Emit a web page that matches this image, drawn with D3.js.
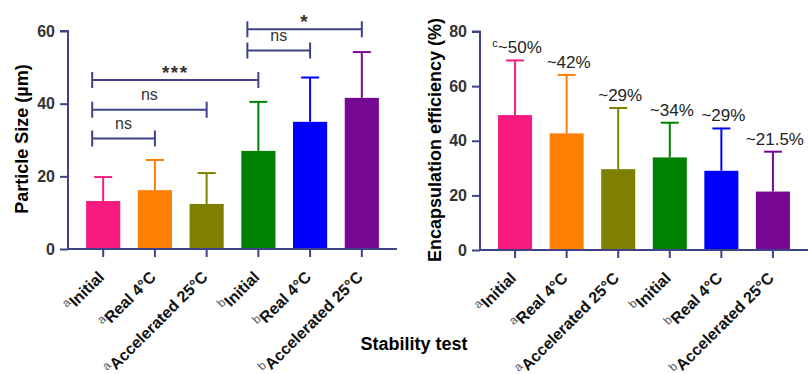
<!DOCTYPE html>
<html>
<head>
<meta charset="utf-8">
<script src="https://cdn.jsdelivr.net/npm/d3@7"></script>
<style>
  body { margin: 0; background: #fff; }
  svg text { font-family: "Liberation Sans", Arial, sans-serif; }
</style>
</head>
<body>
<div id="chart"></div>
<script>
// data
var categories = ["Initial", "Real 4°C", "Accelerated 25°C", "Initial", "Real 4°C", "Accelerated 25°C"];
var groupMarks = ["a", "a", "a", "b", "b", "b"];
var barColors = ["#f71b80", "#ff8000", "#808000", "#008000", "#0000ff", "#770894"];

var sizeMean = [13.2, 16.2, 12.4, 27.0, 35.0, 41.6];
var sizeSD = [6.6, 8.3, 8.5, 13.5, 12.2, 12.6];
var sizeTicks = [0, 20, 40, 60];

var effMean = [49.4, 42.7, 29.6, 33.9, 29.0, 21.4];
var effSD = [20.0, 21.4, 22.4, 12.7, 15.5, 14.6];
var effTicks = [0, 20, 40, 60, 80];
var effLabels = ["~50%", "~42%", "~29%", "~34%", "~29%", "~21.5%"];
var effLabelMarks = ["c", "", "", "", "", ""];

// significance brackets: from bar, to bar, height, label
var bracketFrom = [0, 0, 0, 3, 3];
var bracketTo = [1, 2, 3, 4, 5];
var bracketY = [30.4, 38.3, 46.5, 54.6, 60.5];
var bracketText = ["ns", "ns", "***", "ns", "*"];

var W = 808, H = 374;
var axisColor = "#3f4287";

var svg = d3.select("#chart").append("svg")
    .attr("width", W).attr("height", H);

function drawPanel(opt) {
    var g = svg.append("g");
    var x = d3.scaleBand()
        .domain(d3.range(categories.length))
        .range([opt.x0, opt.x1])
        .paddingInner(0.34)
        .paddingOuter(0.35);
    var y = d3.scaleLinear().domain(opt.domain).range([opt.yBottom, opt.yTop]);

    // bars
    g.selectAll("rect.bar")
        .data(opt.mean)
      .enter().append("rect")
        .attr("class", "bar")
        .attr("x", function(d, i) { return x(i); })
        .attr("width", x.bandwidth())
        .attr("y", function(d) { return y(d); })
        .attr("height", function(d) { return y(0) - y(d); })
        .attr("fill", function(d, i) { return barColors[i]; });

    // error bars (upper only)
    var err = g.selectAll("g.err")
        .data(opt.mean)
      .enter().append("g")
        .attr("class", "err")
        .attr("stroke", function(d, i) { return barColors[i]; })
        .attr("stroke-width", 2);
    err.append("line")
        .attr("x1", function(d, i) { return x(i) + x.bandwidth() / 2; })
        .attr("x2", function(d, i) { return x(i) + x.bandwidth() / 2; })
        .attr("y1", function(d) { return y(d); })
        .attr("y2", function(d, i) { return y(d + opt.sd[i]); });
    err.append("line")
        .attr("x1", function(d, i) { return x(i) + x.bandwidth() / 2 - 9; })
        .attr("x2", function(d, i) { return x(i) + x.bandwidth() / 2 + 9; })
        .attr("y1", function(d, i) { return y(d + opt.sd[i]); })
        .attr("y2", function(d, i) { return y(d + opt.sd[i]); });

    // y axis
    var yAxis = g.append("g")
        .attr("transform", "translate(" + opt.x0 + ",0)")
        .call(d3.axisLeft(y).tickValues(opt.ticks).tickSize(8).tickPadding(5));
    yAxis.select(".domain").attr("stroke", axisColor).attr("stroke-width", 2)
        .attr("d", "M0," + (opt.yBottom + 1) + "V" + opt.yTop + "H-8");
    yAxis.selectAll(".tick line").attr("stroke", axisColor).attr("stroke-width", 2);
    yAxis.selectAll(".tick text")
        .attr("font-size", 16).attr("font-weight", "bold").attr("fill", "#333");

    // x axis
    var xAxis = g.append("g")
        .attr("transform", "translate(0," + opt.yBottom + ")")
        .call(d3.axisBottom(x).tickSize(8).tickFormat(""));
    xAxis.select(".domain").attr("stroke", axisColor).attr("stroke-width", 2)
        .attr("d", "M" + (opt.x0 - 1) + ",0H" + opt.x1);
    xAxis.selectAll(".tick line").attr("stroke", axisColor).attr("stroke-width", 2);

    // rotated category labels with group letters
    var lab = g.selectAll("text.cat")
        .data(categories)
      .enter().append("text")
        .attr("class", "cat")
        .attr("text-anchor", "end")
        .attr("transform", function(d, i) {
            return "translate(" + (x(i) + x.bandwidth() / 2 + 2) + "," + (opt.yBottom + 29) + ") rotate(-45)";
        });
    lab.append("tspan")
        .attr("font-size", 12)
        .attr("fill", "#555")
        .attr("dy", -6)
        .text(function(d, i) { return groupMarks[i]; });
    lab.append("tspan")
        .attr("font-size", 16)
        .attr("font-weight", "bold")
        .attr("fill", "#111")
        .attr("dy", 6)
        .text(function(d) { return d; });

    // y title
    g.append("text")
        .attr("transform", "translate(" + opt.titleX + "," + opt.titleY + ") rotate(-90)")
        .attr("text-anchor", "middle")
        .attr("font-size", 18)
        .attr("font-weight", "bold")
        .attr("fill", "#000")
        .text(opt.title);

    return { g: g, x: x, y: y };
}

// left panel: particle size
var left = drawPanel({
    x0: 68, x1: 397, yBottom: 249, yTop: 31,
    domain: [0, 60], ticks: sizeTicks,
    mean: sizeMean, sd: sizeSD,
    title: "Particle Size (µm)", titleX: 28, titleY: 139
});

var br = left.g.selectAll("g.bracket")
    .data(bracketY)
  .enter().append("g")
    .attr("class", "bracket");
function bx(i, end) {
    var c = left.x(i) + left.x.bandwidth() / 2;
    return end ? c : c - 11;
}
br.append("path")
    .attr("fill", "none")
    .attr("stroke", axisColor)
    .attr("stroke-width", 2)
    .attr("d", function(d, i) {
        var x1 = bx(bracketFrom[i], false), x2 = bx(bracketTo[i], true), yy = left.y(d);
        return "M" + x1 + "," + (yy - 8) + "V" + (yy + 8) +
               "M" + x1 + "," + yy + "H" + x2 +
               "M" + x2 + "," + (yy - 8) + "V" + (yy + 8);
    });
br.append("text")
    .attr("text-anchor", "middle")
    .attr("x", function(d, i) { return (bx(bracketFrom[i], false) + bx(bracketTo[i], true)) / 2; })
    .attr("y", function(d, i) { return left.y(d) - (bracketText[i].indexOf("*") >= 0 ? 1 : 10); })
    .attr("font-size", function(d, i) { return bracketText[i].indexOf("*") >= 0 ? 19 : 16; })
    .attr("font-weight", function(d, i) { return bracketText[i].indexOf("*") >= 0 ? "bold" : "normal"; })
    .attr("letter-spacing", function(d, i) { return bracketText[i].indexOf("*") >= 0 ? 1.5 : 0; })
    .attr("fill", "#333")
    .text(function(d, i) { return bracketText[i]; });

// right panel: encapsulation efficiency
var right = drawPanel({
    x0: 480, x1: 808, yBottom: 250, yTop: 31.5,
    domain: [0, 80], ticks: effTicks,
    mean: effMean, sd: effSD,
    title: "Encapsulation efficiency (%)", titleX: 441, titleY: 140
});

var ann = right.g.selectAll("text.ann")
    .data(effLabels)
  .enter().append("text")
    .attr("class", "ann")
    .attr("text-anchor", "middle")
    .attr("x", function(d, i) { return right.x(i) + right.x.bandwidth() / 2 + 2; })
    .attr("y", function(d, i) { return right.y(effMean[i] + effSD[i]) - 7; })
    .attr("fill", "#222");
ann.append("tspan")
    .attr("font-size", 11)
    .attr("dy", -6)
    .text(function(d, i) { return effLabelMarks[i]; });
ann.append("tspan")
    .attr("font-size", 17)
    .attr("dy", function(d, i) { return effLabelMarks[i] ? 6 : 0; })
    .text(function(d) { return d; });

// shared x title
svg.append("text")
    .attr("x", 414).attr("y", 350)
    .attr("text-anchor", "middle")
    .attr("font-size", 18)
    .attr("font-weight", "bold")
    .attr("fill", "#000")
    .text("Stability test");
</script>
</body>
</html>
